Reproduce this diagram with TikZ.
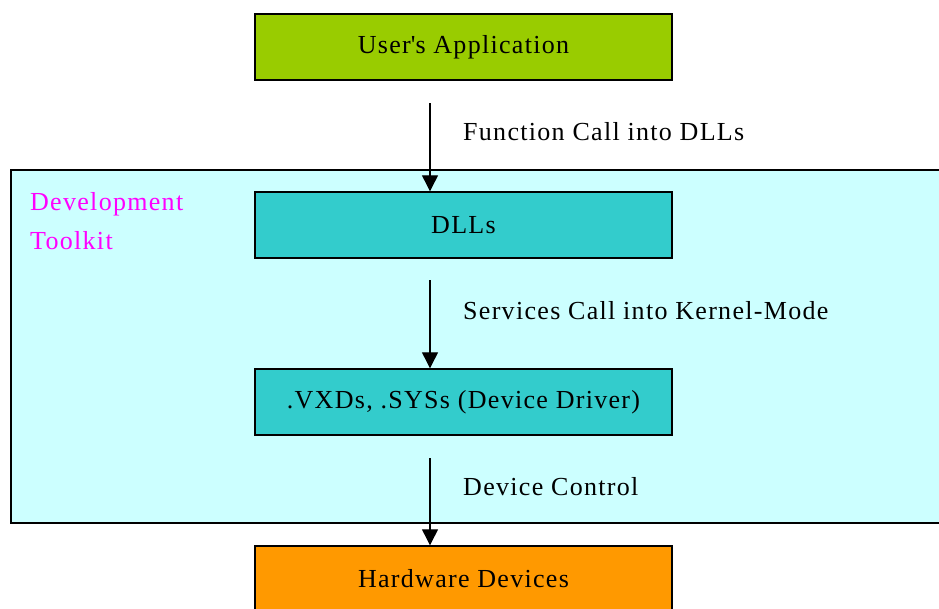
\documentclass[tikz,border=0pt]{standalone}
\usepackage{fontspec}
\setmainfont[LetterSpace=5]{Liberation Serif}
\usetikzlibrary{positioning,arrows.meta}

\definecolor{appgreen}{HTML}{99CC00}
\definecolor{dllteal}{HTML}{33CCCC}
\definecolor{kitcyan}{HTML}{CCFFFF}
\definecolor{hworange}{HTML}{FF9900}
\definecolor{kitmagenta}{HTML}{FF00FF}

\tikzset{
  layer/.style={draw=black, line width=1.4pt, minimum width=417pt, minimum height=66pt,
    inner sep=0pt, font=\fontsize{26}{30}\selectfont},
  call/.style={line width=1.2pt, -{Triangle[width=16pt,length=16pt]}},
  calltext/.style={anchor=west, inner sep=0pt, font=\fontsize{26}{30}\selectfont}
}

\begin{document}
\begin{tikzpicture}[x=1pt,y=-1pt]
        \useasboundingbox (0,0) rectangle (939,608);
        % toolkit frame runs off the right edge
        \draw[fill=kitcyan, line width=1.4pt] (11,170) rectangle (960,523);
        \node[anchor=north west, align=left, text=kitmagenta, inner sep=0pt,
          font=\fontsize{26}{39}\selectfont] (kit) at (30,192) {Development\\Toolkit};

        \coordinate (top) at (463.5,47);
        \node[layer, fill=appgreen] (app) at (top) {User\textquotesingle s Application};
        \node[layer, fill=dllteal, below = 110.6pt of app] (dlls) {DLLs};
        \node[layer, fill=dllteal, below = 109.6pt of dlls] (vxd) {.VXDs, .SYSs (Device Driver)};
        \node[layer, fill=hworange, below = 109.6pt of vxd] (hw) {Hardware Devices};

        \coordinate (s1) at (430,103);
        \coordinate (s2) at (430,280);
        \coordinate (s3) at (430,458);
        \draw[call] (s1) -- (s1 |- dlls.north);
        \draw[call] (s2) -- (s2 |- vxd.north);
        \draw[call] (s3) -- (s3 |- hw.north);

        \node[calltext] (l1) at (463,132) {Function Call into DLLs};
        \node[calltext] (l2) at (463,311) {Services Call into Kernel-Mode};
        \node[calltext] (l3) at (463,487) {Device Control};
    \end{tikzpicture}
\end{document}
